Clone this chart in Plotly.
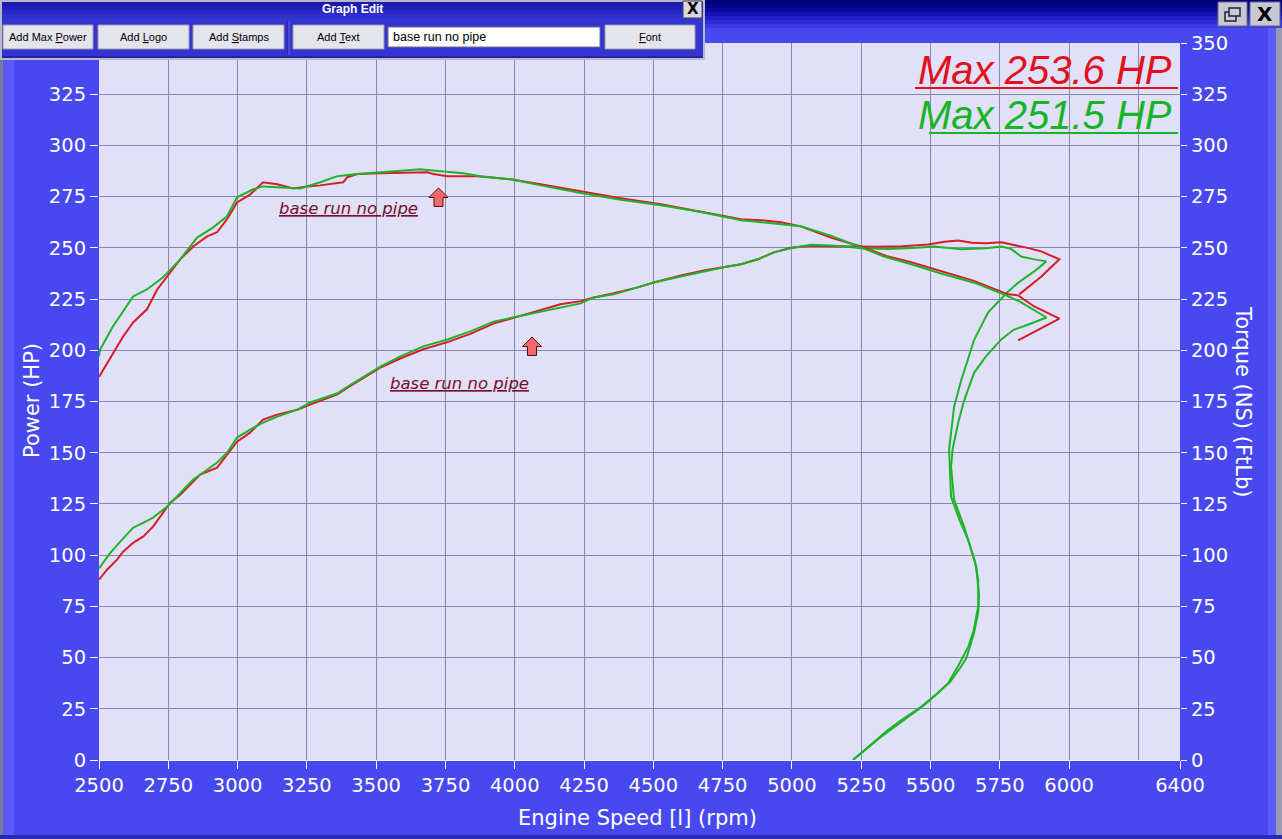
import plotly.graph_objects as go

# ---------------- data ----------------
red_power_rpm = [2500, 2529, 2565, 2587, 2623, 2659, 2695, 2731, 2757, 2793, 2829, 2865, 2926, 2962, 2998,
                 3045, 3092, 3143, 3215, 3262, 3309, 3360, 3400, 3450, 3515, 3587, 3670, 3757, 3840, 3923,
                 4010, 4082, 4165, 4238, 4285, 4357, 4444, 4501, 4599, 4682, 4754, 4816, 4877, 4935, 4996,
                 5068, 5140, 5249, 5300, 5400, 5491, 5550, 5600, 5650, 5700, 5755, 5800, 5850, 5899, 5965,
                 5900, 5820]
red_power_hp = [88, 92.9, 97.8, 101.7, 106, 109, 113.9, 120.7, 125.6, 129.5, 134.4, 139.3, 142.7, 149, 155.4,
                159.8, 166.2, 168.6, 171, 173.5, 176, 178.5, 182, 186, 191.5, 196, 200.5, 204, 208, 213,
                216.5, 219.5, 222.5, 224, 225.8, 227.8, 230.7, 233.1, 236.5, 239, 240.5, 242, 244.4, 247.8, 250,
                251, 250.8, 250.7, 250.5, 250.8, 251.6, 253, 253.6, 252.5, 252.3, 252.7, 251.5, 250, 248.3, 244.4,
                236, 227.3]

green_power_rpm = [2500, 2540, 2576, 2623, 2659, 2695, 2746, 2793, 2840, 2890, 2926, 2962, 2998, 3045, 3092,
                   3143, 3215, 3262, 3309, 3360, 3400, 3450, 3515, 3587, 3670, 3757, 3840, 3923, 4010, 4082,
                   4165, 4238, 4285, 4357, 4444, 4501, 4599, 4682, 4754, 4816, 4877, 4935, 4996, 5068, 5140,
                   5200, 5249, 5350, 5450, 5513, 5560, 5611, 5700, 5755, 5790, 5827, 5870, 5918,
                   5874, 5816, 5780, 5708, 5657, 5610, 5585, 5567, 5574, 5605, 5636, 5660, 5672, 5672, 5655,
                   5636, 5600, 5564, 5520, 5466, 5400, 5347, 5280, 5220]
green_power_hp = [93.5, 101, 106.5, 113.4, 115.8, 118.3, 123.7, 130.5, 136.9, 141.7, 145.2, 150, 157.4, 161.3, 164.7,
                  167.6, 171, 174.5, 176.5, 179, 182.5, 186.5, 192, 197, 201.9, 205.3, 209.2, 214, 216.5, 218.5,
                  221, 222.9, 225.8, 227.3, 230.7, 233.1, 236, 238.5, 240.5, 242, 244.4, 247.8, 249.8, 251.5, 251.2,
                  250.5, 249.8, 249.5, 250, 250.7, 250, 249.3, 249.8, 250.7, 249.5, 245.8, 244.5, 243.4,
                  238.5, 233, 228.7, 218.5, 205, 185, 172.5, 151.5, 128.5, 117, 107.5, 97, 88, 75, 63,
                  55.2, 46, 37.6, 32, 26, 20, 14.7, 7, 0]

red_torque_rpm = [2500, 2558, 2587, 2623, 2673, 2710, 2746, 2793, 2840, 2890, 2926, 2962, 2998, 3045, 3092,
                  3143, 3201, 3251, 3298, 3381, 3396, 3432, 3515, 3634, 3685, 3707, 3757, 3866, 3985, 4093,
                  4238, 4382, 4527, 4671, 4816, 4888, 4960, 5032, 5140, 5249, 5340, 5430, 5538, 5654, 5780,
                  5816, 5874, 5965, 5816]
red_torque_ftlb = [187, 200.4, 206.7, 213.6, 220, 229.7, 236, 244.4, 250.7, 255.6, 257.6, 264, 272.2, 276, 282,
                   281, 279, 280, 280.5, 282, 284.5, 286, 286.4, 286.9, 286.9, 286, 285, 285, 283.5, 281,
                   277.6, 274.2, 271.3, 267.8, 264, 263.5, 262.5, 260.5, 255, 250.7, 246, 243, 238.5, 234, 227.3,
                   226.8, 221.4, 215.5, 204.8]

green_torque_rpm = [2500, 2504, 2550, 2623, 2673, 2731, 2793, 2854, 2912, 2962, 2998, 3056, 3092, 3154, 3226,
                    3298, 3360, 3432, 3515, 3598, 3660, 3732, 3815, 3876, 3985, 4093, 4238, 4382, 4527, 4671,
                    4816, 4960, 5032, 5140, 5249, 5332, 5430, 5538, 5657, 5773, 5827, 5918,
                    5853, 5800, 5755, 5700, 5657, 5620, 5600, 5580, 5574, 5585, 5621, 5665, 5675, 5672, 5657,
                    5630, 5610, 5570, 5527, 5470, 5419, 5321, 5220]
green_torque_ftlb = [197, 200.4, 211.6, 226.3, 229.7, 235.6, 244.4, 255, 260, 265.4, 274.7, 278.6, 280, 279.6, 279,
                     282, 285, 286, 286.9, 288, 288.4, 287.4, 286.4, 285, 283.5, 280.5, 276.8, 273.5, 270.8, 267.5,
                     263.5, 261.5, 260.5, 256, 250.2, 245.8, 242, 237.5, 233, 226.8, 223.4, 216,
                     212.6, 210, 205.3, 197, 189, 175, 164.7, 152, 143.2, 127, 113.9, 94.3, 80, 72, 62,
                     50, 45.5, 38, 32.7, 26, 21, 11.2, 0]

x_tick_vals = [2500, 2750, 3000, 3250, 3500, 3750, 4000, 4250, 4500, 4750, 5000, 5250, 5500, 5750, 6000, 6400]
x_tick_text = [str(v) for v in x_tick_vals]
left_tick_vals = [0, 25, 50, 75, 100, 125, 150, 175, 200, 225, 250, 275, 300, 325]
right_tick_vals = [0, 25, 50, 75, 100, 125, 150, 175, 200, 225, 250, 275, 300, 325, 350]

red_max_text = "Max 253.6 HP"
green_max_text = "Max 251.5 HP"
note_text = "base run no pipe"

# ---------------- styles ----------------
BLUE = "#4848f0"
PLOT_BG = "#e0e0f8"
GRID = "#8888a8"
RED = "#d81c28"
GREEN = "#1eb42a"
W, H = 1282, 839
ML, MR, MT, MB = 99, 102, 43, 79
PW, PH = W - ML - MR, H - MT - MB


def X(px):
    return (px - ML) / PW


def Y(py):
    return (H - MB - py) / PH


fig = go.Figure()
fig.add_trace(go.Scatter(x=red_power_rpm, y=red_power_hp, mode="lines",
                         line=dict(color=RED, width=2), name="Power red"))
fig.add_trace(go.Scatter(x=red_torque_rpm, y=red_torque_ftlb, mode="lines", yaxis="y2",
                         line=dict(color=RED, width=2), name="Torque red"))
fig.add_trace(go.Scatter(x=green_power_rpm, y=green_power_hp, mode="lines",
                         line=dict(color=GREEN, width=2), name="Power green"))
fig.add_trace(go.Scatter(x=green_torque_rpm, y=green_torque_ftlb, mode="lines", yaxis="y2",
                         line=dict(color=GREEN, width=2), name="Torque green"))

tickfont = dict(family="DejaVu Sans", size=19.5, color="white")
fig.update_layout(
    width=W, height=H, autosize=False,
    margin=dict(l=ML, r=MR, t=MT, b=MB, pad=0),
    paper_bgcolor=BLUE, plot_bgcolor=PLOT_BG, showlegend=False,
    xaxis=dict(range=[2500, 6400], tickvals=x_tick_vals, ticktext=x_tick_text,
               ticks="outside", ticklen=8, tickcolor="white", tickwidth=1, tickfont=tickfont,
               showgrid=True, gridcolor=GRID, gridwidth=1, zeroline=False,
               showline=True, linecolor="#f4f4ff", linewidth=1,
               minor=dict(tickvals=[6250], showgrid=True, gridcolor=GRID, gridwidth=1, ticks="")),
    yaxis=dict(range=[0, 350], tickvals=left_tick_vals, ticks="outside", ticklen=8,
               tickcolor="white", tickfont=tickfont, showgrid=True, gridcolor=GRID, gridwidth=1,
               zeroline=False, showline=False),
    yaxis2=dict(range=[0, 350], overlaying="y", side="right", tickvals=right_tick_vals,
                ticks="outside", ticklen=6, tickcolor="white", tickfont=tickfont,
                showgrid=False, zeroline=False, showline=False),
)

shapes = []


def rect(x0, y0, x1, y1, fill, line=None, lw=0):
    shapes.append(dict(type="rect", xref="paper", yref="paper", x0=X(x0), x1=X(x1), y0=Y(y1), y1=Y(y0),
                       fillcolor=fill, line=dict(width=lw, color=line or fill), layer="above"))


def hline(x0, x1, y, color, lw=1):
    shapes.append(dict(type="line", xref="paper", yref="paper", x0=X(x0), x1=X(x1), y0=Y(y), y1=Y(y),
                       line=dict(color=color, width=lw), layer="above"))


def vline(x, y0, y1, color, lw=1):
    shapes.append(dict(type="line", xref="paper", yref="paper", x0=X(x), x1=X(x), y0=Y(y0), y1=Y(y1),
                       line=dict(color=color, width=lw), layer="above"))


annotations = []


def label(px, py, text, size, color, family="Liberation Sans", xanchor="center", angle=0, style="normal",
          weight="normal"):
    annotations.append(dict(x=X(px), y=Y(py), xref="paper", yref="paper", text=text, showarrow=False,
                            xanchor=xanchor, yanchor="middle", textangle=angle,
                            font=dict(family=family, size=size, color=color, style=style, weight=weight)))


# window title bar (top)
for i, c in enumerate(["#00007a", "#05058c", "#0a0aa0", "#1414b4", "#2020c8", "#2c2cd8", "#3a3ae6"]):
    rect(0, i * 4, W, i * 4 + 4, c)
# restore / close buttons
rect(1218, 2, 1247, 26, "#c8c8d4", "#6a6a80", 1)
rect(1225, 12, 1236, 21, "#c8c8d4", "#20203a", 1.5)
rect(1229, 8, 1240, 16, "#c8c8d4", "#20203a", 1.5)
rect(1250, 2, 1280, 26, "#c8c8d4", "#6a6a80", 1)
label(1265, 14, "X", 20, "black", family="DejaVu Sans", weight="bold")

# left / right / bottom window edges
rect(0, 58, 3, H, "#7c7c90")
rect(3, 58, 14, H, "#5a5afa")
rect(1268, 28, 1276, H, "#5c5cfa")
rect(1276, 28, W, H, "#9a9ab4")
rect(0, 835, W, H, "#2a2ab8")

# Graph Edit tool window
rect(0, 0, 705, 60, "#b8b8c8")
rect(2, 2, 703, 58, "#3434d2")
for i, c in enumerate(["#1a1ab0", "#2020bc", "#2828c8", "#3030d0"]):
    rect(2, 2 + i * 4, 703, 6 + i * 4, c)
hline(2, 703, 57, "#141470", 1)
label(352, 9, "Graph Edit", 12, "white", weight="bold")
rect(683, 1, 702, 18, "#d8d8e0", "#404050", 1)
label(692.5, 9.5, "X", 15, "black", family="DejaVu Sans", weight="bold")
buttons = [(3, 93, "Add Max <u>P</u>ower"), (98, 189, "Add <u>L</u>ogo"), (193, 284, "Add <u>S</u>tamps"),
           (293, 384, "Add <u>T</u>ext"), (605, 695, "<u>F</u>ont")]
for x0, x1, t in buttons:
    rect(x0, 25, x1, 49, "#e4e4ec", "#9a9aa8", 1)
    label((x0 + x1) / 2, 37, t, 11, "black")
vline(288, 21, 55, "#1a1a80", 1)
vline(289, 21, 55, "#6a6ae8", 1)
rect(388, 27, 600, 47, "white", "#707080", 1)
label(391, 37, note_text, 12.5, "black", xanchor="left")

# max power labels
label(1174, 70, red_max_text, 40, "#e0101c", style="italic", xanchor="right")
hline(915, 1178, 88, "#e0101c", 2)
label(1174, 115, green_max_text, 40, "#18b428", style="italic", xanchor="right")
hline(929, 1178, 133, "#18b428", 2)

# notes with arrows
NOTE = "#7a0c2c"
label(348, 208, "<u>" + note_text + "</u>", 16.5, NOTE, family="DejaVu Sans", style="italic")
label(459, 383, "<u>" + note_text + "</u>", 16.5, NOTE, family="DejaVu Sans", style="italic")


def arrow(cx, ty):
    pts = [(cx, ty), (cx + 9.5, ty + 9.5), (cx + 4.5, ty + 9.5), (cx + 4.5, ty + 18.5),
           (cx - 4.5, ty + 18.5), (cx - 4.5, ty + 9.5), (cx - 9.5, ty + 9.5)]
    path = "M " + " L ".join(f"{X(a):.5f},{Y(b):.5f}" for a, b in pts) + " Z"
    shapes.append(dict(type="path", xref="paper", yref="paper", path=path, fillcolor="#f06a6a",
                       line=dict(color="#5a0a14", width=1), layer="above"))


arrow(438.5, 188)
arrow(532, 337)

# axis titles
label(637, 818, "Engine Speed [l] (rpm)", 21, "white", family="DejaVu Sans")
label(32, 401, "Power (HP)", 21, "white", family="DejaVu Sans", angle=-90)
label(1243, 401, "Torque (NS) (FtLb)", 21, "white", family="DejaVu Sans", angle=90)

fig.update_layout(shapes=shapes, annotations=annotations)

fig.write_html("out.html", config={"displayModeBar": False},
               post_script="document.body.style.margin='0';document.body.style.overflow='hidden';")
